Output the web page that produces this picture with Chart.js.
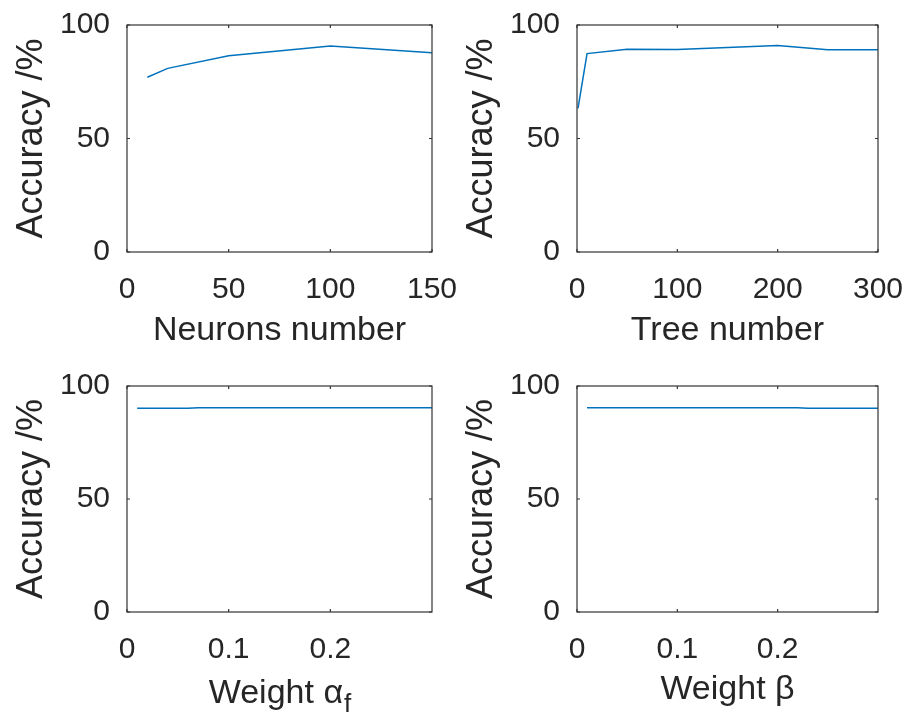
<!DOCTYPE html>
<html lang="en">
<head>
  <meta charset="UTF-8">
  <title>Accuracy vs parameters</title>
  <script src="https://cdn.jsdelivr.net/npm/chart.js"></script>
  <style>
    html, body { margin: 0; padding: 0; background: #fff; }
    #wrap { position: relative; width: 910px; height: 717px; overflow: hidden; }
    #wrap canvas { position: absolute; }
  </style>
</head>
<body>
  <div id="wrap">
    <canvas id="pNeurons" width="460" height="358" style="left:0;top:0"></canvas>
    <canvas id="pTrees" width="460" height="358" style="left:450px;top:0"></canvas>
    <canvas id="pAlpha" width="460" height="359" style="left:0;top:358px"></canvas>
    <canvas id="pBeta" width="460" height="359" style="left:450px;top:358px"></canvas>
  </div>

  <script>
    // y axis, shared by all four panels
    const yLabel = 'Accuracy /%';
    const accTicks = [0, 50, 100];

    // hidden layer size
    const neuronX = [10, 20, 50, 100, 150];
    const neuronAcc = [77.0, 80.9, 86.5, 90.7, 87.8];
    const neuronTicks = [0, 50, 100, 150];

    // forest size
    const treeX = [1, 10, 50, 100, 150, 200, 250, 300];
    const treeAcc = [63.3, 87.4, 89.3, 89.2, 90.1, 91.0, 89.1, 89.1];
    const treeTicks = [0, 100, 200, 300];

    // weights
    const weightTicks = [0, 0.1, 0.2];
    const alphaX = [0.01, 0.06, 0.07, 0.1, 0.2, 0.3];
    const alphaAcc = [90.2, 90.2, 90.4, 90.4, 90.4, 90.4];
    const betaX = [0.01, 0.1, 0.2, 0.22, 0.23, 0.3];
    const betaAcc = [90.4, 90.4, 90.4, 90.4, 90.2, 90.2];

    const ink = '#262626';
    const family = '"Liberation Sans", Arial, Helvetica, sans-serif';
    const tickFont = { family: family, size: 30 };
    const labelFont = { family: family, size: 34 };
    const yLabelFont = { family: family, size: 36 };

    // box around the axes with short inward tick marks (matlab style)
    const framePlugin = {
      id: 'frame',
      afterDatasetsDraw(chart) {
        const { ctx, chartArea: a, scales: { x, y } } = chart;
        const tl = 3;
        ctx.save();
        ctx.strokeStyle = '#333';
        ctx.lineWidth = 1.2;
        ctx.strokeRect(a.left, a.top, a.right - a.left, a.bottom - a.top);
        ctx.beginPath();
        x.ticks.forEach(t => {
          const px = x.getPixelForValue(t.value);
          ctx.moveTo(px, a.bottom); ctx.lineTo(px, a.bottom - tl);
          ctx.moveTo(px, a.top); ctx.lineTo(px, a.top + tl);
        });
        y.ticks.forEach(t => {
          const py = y.getPixelForValue(t.value);
          ctx.moveTo(a.left, py); ctx.lineTo(a.left + tl, py);
          ctx.moveTo(a.right, py); ctx.lineTo(a.right - tl, py);
        });
        ctx.stroke();
        ctx.restore();
      },
      // x label with a subscript, e.g. alpha_f
      afterDraw(chart) {
        const sub = chart.options.plugins.frame.sub;
        if (!sub) return;
        const { ctx, chartArea: a } = chart;
        ctx.save();
        ctx.fillStyle = ink;
        ctx.textBaseline = 'alphabetic';
        ctx.font = labelFont.size + 'px ' + family;
        const wMain = ctx.measureText(sub.main).width;
        ctx.font = '26px ' + family;
        const wSub = ctx.measureText(sub.low).width;
        const x0 = (a.left + a.right) / 2 - (wMain + wSub) / 2;
        const base = a.bottom + 90.5;
        ctx.font = labelFont.size + 'px ' + family;
        ctx.fillText(sub.main, x0, base);
        ctx.font = '26px ' + family;
        ctx.fillText(sub.low, x0 + wMain + 1, base + 9);
        ctx.restore();
      }
    };

    // labels may hang over the plot box, so drop the scale's own padding
    function noPad(s) {
      s.paddingLeft = 0;
      s.paddingRight = 0;
      s.paddingTop = 0;
      s.paddingBottom = 0;
    }

    function panel(id, xs, ys, xMax, xTicks, xTitle, box, sub) {
      const pts = xs.map((v, i) => ({ x: v, y: ys[i] }));
      new Chart(document.getElementById(id), {
        type: 'line',
        data: {
          datasets: [{
            data: pts,
            borderColor: '#0072BD',
            borderWidth: 1.5,
            pointRadius: 0,
            fill: false,
            tension: 0
          }]
        },
        options: {
          responsive: false,
          animation: false,
          devicePixelRatio: 1,
          layout: { padding: { top: box.top, right: box.right, left: 0, bottom: 0 } },
          plugins: {
            legend: { display: false },
            tooltip: { enabled: false },
            frame: { sub: sub || null }
          },
          scales: {
            x: {
              type: 'linear',
              min: 0,
              max: xMax,
              afterBuildTicks: s => { s.ticks = xTicks.map(v => ({ value: v })); },
              afterFit: s => { s.height = box.xh; noPad(s); },
              grid: { display: false, drawTicks: false },
              border: { display: false },
              ticks: { font: tickFont, color: ink, padding: 20, maxRotation: 0, autoSkip: false, callback: v => String(v) },
              title: { display: !sub, text: xTitle, font: labelFont, color: ink, padding: { top: 0, bottom: 7 } }
            },
            y: {
              type: 'linear',
              min: 0,
              max: 100,
              afterBuildTicks: s => { s.ticks = accTicks.map(v => ({ value: v })); },
              afterFit: s => { s.width = 127; noPad(s); },
              grid: { display: false, drawTicks: false },
              border: { display: false },
              ticks: { font: tickFont, color: ink, padding: 17, callback: v => String(v) },
              title: { display: true, text: yLabel, font: yLabelFont, color: ink, padding: { top: 10, bottom: 0 } }
            }
          }
        },
        plugins: [framePlugin]
      });
    }

    panel('pNeurons', neuronX, neuronAcc, 150, neuronTicks, 'Neurons number', { top: 25, right: 28, xh: 106 });
    panel('pTrees', treeX, treeAcc, 300, treeTicks, 'Tree number', { top: 25, right: 32, xh: 106 });
    panel('pAlpha', alphaX, alphaAcc, 0.3, weightTicks, '', { top: 28, right: 28, xh: 105 }, { main: 'Weight α', low: 'f' });
    panel('pBeta', betaX, betaAcc, 0.3, weightTicks, 'Weight β', { top: 28, right: 32, xh: 105 });
  </script>
</body>
</html>
